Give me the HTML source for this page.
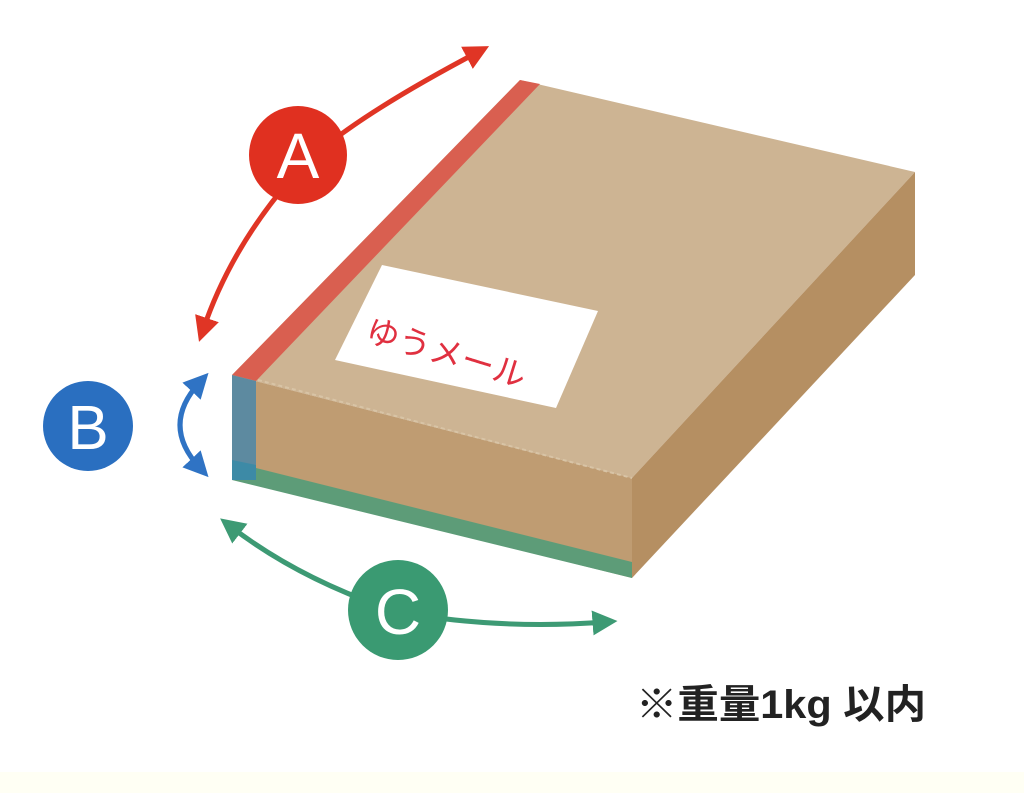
<!DOCTYPE html>
<html><head><meta charset="utf-8"><style>
body{margin:0;width:1024px;height:793px;background:#fff;overflow:hidden;position:relative;font-family:"Liberation Sans","Noto Sans CJK JP",sans-serif}
.strip{position:absolute;left:0;top:772px;width:1024px;height:21px;background:#fffff4}
</style></head><body>
<svg width="1024" height="793" style="position:absolute;left:0;top:0">
<defs>
<marker id="ar" viewBox="0 0 10 10" refX="5" refY="5" markerWidth="5" markerHeight="5" orient="auto-start-reverse"><path d="M0,0 L10,5 L0,10 z" fill="#e03525"/></marker>
<marker id="ab" viewBox="0 0 10 10" refX="5" refY="5" markerWidth="5" markerHeight="5" orient="auto-start-reverse"><path d="M0,0 L10,5 L0,10 z" fill="#2f73c4"/></marker>
<marker id="ag" viewBox="0 0 10 10" refX="5" refY="5" markerWidth="5" markerHeight="5" orient="auto-start-reverse"><path d="M0,0 L10,5 L0,10 z" fill="#3d9a74"/></marker>
</defs>
<polygon points="232,375 520,80 915,172 632,478" fill="#cdb493"/>
<polygon points="232,375 632,478 632,578 232,478" fill="#bf9c72"/>
<polygon points="632,478 915,172 915,275 632,578" fill="#b58f62"/>
<line x1="258" y1="380" x2="632" y2="478" stroke="#d8c4a6" stroke-width="2" stroke-dasharray="4 3"/>
<polygon points="232,375 520,80 540,84 256,381" fill="#d95f50"/>
<polygon points="232,462 632,562 632,578 232,480" fill="#5d9c78"/>
<polygon points="232,375 256,381 256,480 232,480" fill="#5d8aa0"/>
<polygon points="232,460 256,465 256,480 232,480" fill="#3d8aa6"/>
<polygon points="382,265 598,311 556,408 335,360" fill="#fff"/>
<text x="0" y="0" font-size="33" fill="#e03040" transform="translate(364,340) rotate(17)">ゆうメール</text>
<path d="M478,52 Q330,130 290,180 Q230,250 203,330" fill="none" stroke="#e03525" stroke-width="5" marker-start="url(#ar)" marker-end="url(#ar)"/>
<circle cx="298" cy="155" r="49" fill="#e03020"/>
<text x="298" y="178" font-size="64" fill="#fff" text-anchor="middle">A</text>
<path d="M200,382 Q160,425 200,468" fill="none" stroke="#2f73c4" stroke-width="5" marker-start="url(#ab)" marker-end="url(#ab)"/>
<circle cx="88" cy="426" r="45" fill="#2a6fc0"/>
<text x="88" y="449" font-size="62" fill="#fff" text-anchor="middle">B</text>
<path d="M230,526 Q300,580 398,612 Q500,630 605,622" fill="none" stroke="#3d9a74" stroke-width="5" marker-start="url(#ag)" marker-end="url(#ag)"/>
<circle cx="398" cy="610" r="50" fill="#3a9a72"/>
<text x="398" y="634" font-size="64" fill="#fff" text-anchor="middle">C</text>
<text x="636" y="718" font-size="40" fill="#222" font-weight="bold" textLength="290" lengthAdjust="spacingAndGlyphs">※重量1kg 以内</text>
</svg>
<div class="strip"></div>
</body></html>
